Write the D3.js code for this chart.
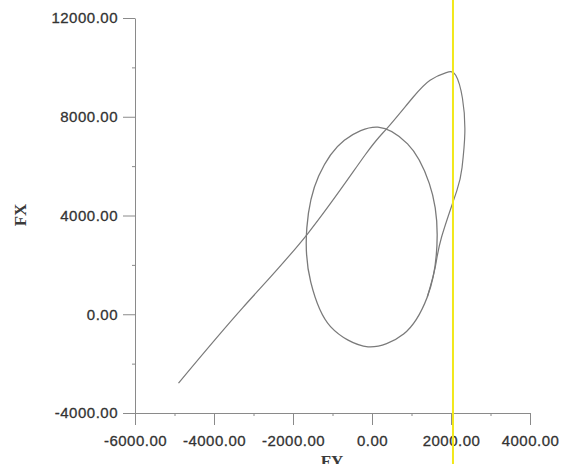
<!DOCTYPE html>
<html>
<head>
<meta charset="utf-8">
<script src="https://d3js.org/d3.v7.min.js"></script>
<style>
  body { margin: 0; background: #fff; }
  .tick text { font-family: "Liberation Sans", Arial, sans-serif; }
</style>
</head>
<body>
<script>
// major and minor tick values
var xTicks = [-6000, -4000, -2000, 0, 2000, 4000];
var xMinor = [-5000, -3000, -1000, 1000, 3000];
var yTicks = [-4000, 0, 4000, 8000, 12000];
var yMinor = [-2000, 2000, 6000, 10000];

// closed orbit (FY, FX)
var loopFY = [1650, 1450, 900, 150, -700, -1350, -1650, -1550, -1050, -100, 800, 1400];
var loopFX = [3200, 5300, 6900, 7580, 7050, 5600, 3500, 1300, -500, -1320, -800, 700];

// transient path from the start point into the orbit
var pathFY = [-4900, -3270, -1620, -180, 380, 1040, 1470, 1880, 2120, 2290, 2350, 2280, 2150, 1760, 1600, 1400];
var pathFX = [-2790, 270, 3280, 6440, 7530, 8790, 9480, 9790, 9680, 8750, 7330, 5950, 5020, 3120, 1900, 700];

// the yellow marker line across the scan
var markerFY = [2050];

var w = 564, h = 464;
var svg = d3.select("body").append("svg").attr("width", w).attr("height", h);

var x = d3.scaleLinear().domain([-6000, 4000]).range([135, 530]);
var y = d3.scaleLinear().domain([-4000, 12000]).range([413, 18]);

var fmt = d3.formatLocale({decimal: ".", thousands: ",", grouping: [3], currency: ["", ""], minus: "-"}).format(".2f");

// minor ticks
svg.append("g").attr("transform", "translate(0,413)")
  .call(d3.axisBottom(x).tickValues(xMinor).tickSize(3).tickSizeOuter(0).tickFormat(""))
  .call(function(g){ g.select(".domain").remove(); });
svg.append("g").attr("transform", "translate(135,0)")
  .call(d3.axisLeft(y).tickValues(yMinor).tickSize(3).tickSizeOuter(0).tickFormat(""))
  .call(function(g){ g.select(".domain").remove(); });

// major axes
var xAxis = svg.append("g").attr("transform", "translate(0,413)")
  .call(d3.axisBottom(x).tickValues(xTicks).tickSize(12).tickSizeOuter(0).tickPadding(10).tickFormat(fmt));
var yAxis = svg.append("g").attr("transform", "translate(135,0)")
  .call(d3.axisLeft(y).tickValues(yTicks).tickSize(12).tickSizeOuter(0).tickPadding(5).tickFormat(fmt));

svg.selectAll(".domain, .tick line").attr("stroke", "#8a8a8a").attr("stroke-width", 1);
svg.selectAll(".tick text").attr("fill", "#333").attr("stroke", "#333").attr("stroke-width", 0.3)
  .attr("font-size", "15px").style("letter-spacing", "0.5px");

// axis titles
svg.append("text")
  .attr("transform", "translate(26,215) rotate(-90)")
  .attr("text-anchor", "middle")
  .attr("font-family", "'Liberation Serif', 'Times New Roman', serif")
  .attr("font-weight", "bold")
  .attr("font-size", "17px")
  .attr("fill", "#3a3a3a")
  .text("FX");

svg.append("text")
  .attr("x", 332).attr("y", 467)
  .attr("text-anchor", "middle")
  .attr("font-family", "'Liberation Serif', 'Times New Roman', serif")
  .attr("font-weight", "bold")
  .attr("font-size", "17px")
  .attr("fill", "#3a3a3a")
  .text("FY");

// curves
var loopData = loopFY.map(function(d, i){ return [d, loopFX[i]]; });
var pathData = pathFY.map(function(d, i){ return [d, pathFX[i]]; });

var loopLine = d3.line().x(function(d){ return x(d[0]); }).y(function(d){ return y(d[1]); }).curve(d3.curveCatmullRomClosed);
var pathLine = d3.line().x(function(d){ return x(d[0]); }).y(function(d){ return y(d[1]); }).curve(d3.curveNatural);

svg.append("path").attr("d", loopLine(loopData))
  .attr("fill", "none").attr("stroke", "#7a7a7a").attr("stroke-width", 1.3);
svg.append("path").attr("d", pathLine(pathData))
  .attr("fill", "none").attr("stroke", "#7a7a7a").attr("stroke-width", 1.2);

// yellow marker
svg.selectAll(".marker").data(markerFY).enter().append("line")
  .attr("class", "marker")
  .attr("x1", function(d){ return x(d); }).attr("x2", function(d){ return x(d); })
  .attr("y1", 0).attr("y2", h)
  .attr("stroke", "#f2e81a").attr("stroke-width", 2);
</script>
</body>
</html>
